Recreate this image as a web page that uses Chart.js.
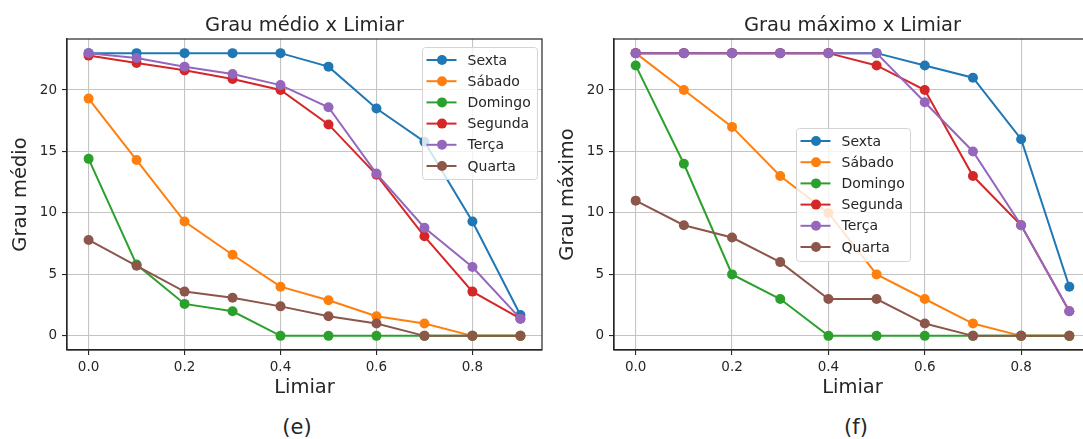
<!DOCTYPE html>
<html>
<head>
<meta charset="utf-8">
<script src="https://cdn.jsdelivr.net/npm/chart.js@4.4.0/dist/chart.umd.min.js"></script>
<style>
    html, body { margin: 0; padding: 0; background: #fff; overflow: hidden; }
    #quadro { position: relative; width: 1083px; height: 439px; overflow: hidden; }
    canvas { position: absolute; top: 0; }
    #graficoMedio { left: 0; }
    #graficoMaximo { left: 547px; }
    .legenda-fig { position: absolute; top: 415px; width: 100px; height: 24px; line-height: 24px;
        text-align: center; font: 21px "DejaVu Sans"; color: #262626; }
</style>
</head>
<body>
<div id="quadro">
    <canvas id="graficoMedio" width="547" height="400"></canvas>
    <canvas id="graficoMaximo" width="561" height="400"></canvas>
    <div class="legenda-fig" style="left:247px">(e)</div>
    <div class="legenda-fig" style="left:806px">(f)</div>
</div>
<script>
const limiar = [0.0, 0.1, 0.2, 0.3, 0.4, 0.5, 0.6, 0.7, 0.8, 0.9];
const dias = ["Sexta", "Sábado", "Domingo", "Segunda", "Terça", "Quarta"];
const cores = ["#1f77b4", "#ff7f0e", "#2ca02c", "#d62728", "#9467bd", "#8c564b"];
const ticksX = [0.0, 0.2, 0.4, 0.6, 0.8];
const ticksY = [0, 5, 10, 15, 20];

// grau medio por limiar
const medioSexta   = [23.0, 23.0, 23.0, 23.0, 23.0, 21.9, 18.5, 15.8, 9.3, 1.7];
const medioSabado  = [19.3, 14.3, 9.3, 6.6, 4.0, 2.9, 1.6, 1.0, 0, 0];
const medioDomingo = [14.4, 5.8, 2.6, 2.0, 0, 0, 0, 0, 0, 0];
const medioSegunda = [22.8, 22.2, 21.6, 20.9, 20.0, 17.2, 13.1, 8.1, 3.6, 1.4];
const medioTerca   = [23.0, 22.6, 21.9, 21.3, 20.4, 18.6, 13.2, 8.8, 5.6, 1.4];
const medioQuarta  = [7.8, 5.7, 3.6, 3.1, 2.4, 1.6, 1.0, 0, 0, 0];

// grau maximo por limiar
const maximoSexta   = [23, 23, 23, 23, 23, 23, 22, 21, 16, 4];
const maximoSabado  = [23, 20, 17, 13, 10, 5, 3, 1, 0, 0];
const maximoDomingo = [22, 14, 5, 3, 0, 0, 0, 0, 0, 0];
const maximoSegunda = [23, 23, 23, 23, 23, 22, 20, 13, 9, 2];
const maximoTerca   = [23, 23, 23, 23, 23, 23, 19, 15, 9, 2];
const maximoQuarta  = [11, 9, 8, 6, 3, 3, 1, 0, 0, 0];

const corTexto = "#262626";
const fonte = "DejaVu Sans";

const moldura = {
    id: "moldura",
    afterDraw(chart) {
        const { ctx, chartArea: a } = chart;
        ctx.save();
        ctx.strokeStyle = corTexto;
        ctx.lineWidth = 1.2;
        ctx.strokeRect(a.left, a.top, a.right - a.left, a.bottom - a.top);
        ctx.restore();
    }
};

// legenda dentro do grafico, como no matplotlib
const legendaInterna = {
    id: "legendaInterna",
    afterDatasetsDraw(chart, args, opts) {
        const { ctx, chartArea: a } = chart;
        const x0 = Math.round(a.left + opts.x) + 0.5;
        const y0 = Math.round(a.top + opts.y) + 0.5;
        ctx.save();
        ctx.beginPath();
        ctx.roundRect(x0, y0, opts.w, opts.h, 3);
        ctx.fillStyle = "rgba(255,255,255,0.8)";
        ctx.fill();
        ctx.strokeStyle = "#d4d4d4";
        ctx.lineWidth = 1;
        ctx.stroke();
        ctx.font = "14px \"" + fonte + "\"";
        ctx.textBaseline = "middle";
        chart.data.datasets.forEach((ds, i) => {
            const cy = y0 + 12.5 + i * 21.2;
            ctx.strokeStyle = ds.borderColor;
            ctx.lineWidth = 2;
            ctx.beginPath();
            ctx.moveTo(x0 + 4, cy);
            ctx.lineTo(x0 + 34, cy);
            ctx.stroke();
            ctx.fillStyle = ds.borderColor;
            ctx.beginPath();
            ctx.arc(x0 + 19.5, cy, 5, 0, Math.PI * 2);
            ctx.fill();
            ctx.fillStyle = corTexto;
            ctx.fillText(ds.label, x0 + 45, cy + 1);
        });
        ctx.restore();
    }
};

function criarGrafico(id, titulo, rotuloY, series, padDireita, posLegenda) {
    const ctx = document.getElementById(id).getContext("2d");
    return new Chart(ctx, {
        type: "line",
        data: {
            datasets: series.map((serie, i) => ({
                label: dias[i],
                data: limiar.map((x, j) => ({ x: x, y: serie[j] })),
                borderColor: cores[i],
                backgroundColor: cores[i],
                borderWidth: 2,
                pointRadius: 5,
                pointBorderWidth: 0,
                pointHoverRadius: 5,
                tension: 0,
                order: series.length - i
            }))
        },
        options: {
            responsive: false,
            animation: false,
            events: [],
            layout: { padding: { left: 0, right: padDireita, top: 0, bottom: 0 } },
            plugins: {
                legend: { display: false },
                tooltip: { enabled: false },
                title: {
                    display: true,
                    text: titulo,
                    fullSize: false,
                    color: corTexto,
                    font: { family: fonte, size: 19.5, weight: "normal" },
                    padding: { top: 13.9, bottom: 1.7 }
                },
                legendaInterna: posLegenda
            },
            scales: {
                x: {
                    type: "linear",
                    min: -0.045,
                    max: 0.945,
                    afterBuildTicks: s => { s.ticks = ticksX.map(v => ({ value: v })); },
                    afterFit: s => { s.height = 50; s.paddingLeft = 0; s.paddingRight = 0; },
                    ticks: {
                        callback: v => v.toFixed(1),
                        color: corTexto,
                        font: { family: fonte, size: 13.5 },
                        padding: 4,
                        maxRotation: 0,
                        autoSkip: false
                    },
                    grid: { color: "#c4c4c4", lineWidth: 1.1, tickColor: corTexto, tickLength: 5 },
                    border: { display: true, color: corTexto, width: 1.2 },
                    title: {
                        display: true,
                        text: "Limiar",
                        color: corTexto,
                        font: { family: fonte, size: 19.5 },
                        padding: { top: 0, bottom: 0 }
                    }
                },
                y: {
                    type: "linear",
                    min: -1.15,
                    max: 24.15,
                    afterBuildTicks: s => { s.ticks = ticksY.map(v => ({ value: v })); },
                    afterFit: s => { s.width = 67; s.paddingTop = 0; s.paddingBottom = 0; },
                    ticks: {
                        color: corTexto,
                        font: { family: fonte, size: 13.5 },
                        padding: 5
                    },
                    grid: { color: "#c4c4c4", lineWidth: 1.1, tickColor: corTexto, tickLength: 5 },
                    border: { display: true, color: corTexto, width: 1.2 },
                    title: {
                        display: true,
                        text: rotuloY,
                        color: corTexto,
                        font: { family: fonte, size: 19.5 },
                        padding: { top: 9, bottom: 0 }
                    }
                }
            }
        },
        plugins: [moldura, legendaInterna]
    });
}

criarGrafico("graficoMedio", "Grau médio x Limiar", "Grau médio",
    [medioSexta, medioSabado, medioDomingo, medioSegunda, medioTerca, medioQuarta],
    4, { x: 355, y: 8, w: 115, h: 132 });

criarGrafico("graficoMaximo", "Grau máximo x Limiar", "Grau máximo",
    [maximoSexta, maximoSabado, maximoDomingo, maximoSegunda, maximoTerca, maximoQuarta],
    17, { x: 182, y: 89, w: 114, h: 133 });
</script>
</body>
</html>
